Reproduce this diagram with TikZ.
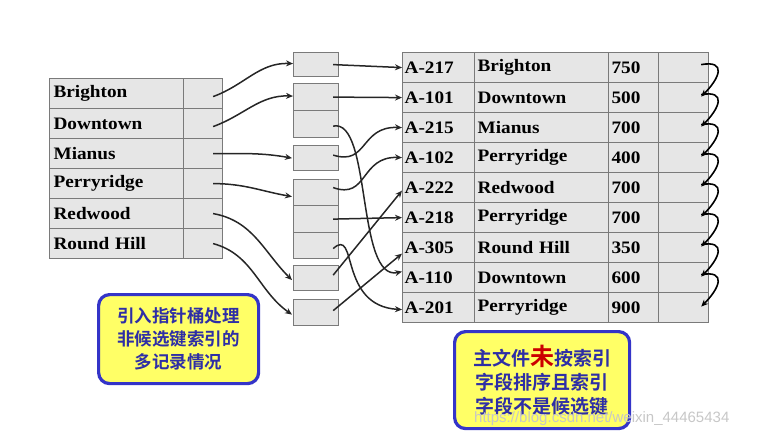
\documentclass[tikz,border=0pt]{standalone}
\usepackage{fontspec}
\setmainfont{Liberation Serif}[FakeStretch=1.1]
\newfontfamily\cjkfont{Noto Sans CJK SC}[BoldFont={Noto Sans CJK SC Bold}]
\newfontfamily\wmfont{Liberation Sans}
\usetikzlibrary{arrows.meta}
\definecolor{cellgray}{HTML}{E6E6E6}
\definecolor{linegray}{HTML}{7A7A7A}
\definecolor{boxyellow}{HTML}{FFFF66}
\definecolor{boxblue}{HTML}{3434C8}
\definecolor{txtblue}{HTML}{2E2EA6}
\definecolor{txtred}{HTML}{CC0000}
\begin{document}
\begin{tikzpicture}[x=1pt,y=-1pt,
  cell/.style={draw=linegray, fill=cellgray, line width=1.2pt, inner sep=0pt,
    anchor=north west, font=\fontsize{17.5}{19}\selectfont\bfseries},
  lname/.style={cell, minimum height=30pt, text width=126pt, inner xsep=4pt, align=left},
  lptr/.style={cell, minimum height=30pt, minimum width=39pt},
  bcell/.style={cell, minimum height=26pt, minimum width=45pt},
  rA/.style={cell, minimum height=30pt, text width=68pt, inner xsep=2pt, align=left},
  rB/.style={cell, minimum height=30pt, text width=128pt, inner xsep=3pt, align=left},
  rC/.style={cell, minimum height=30pt, text width=44pt, inner xsep=3pt, align=left},
  rD/.style={cell, minimum height=30pt, minimum width=50pt},
  ptr/.style={draw=black!85, line width=1.5pt, -{Stealth[length=7pt,width=6pt]}},
  chain/.style={draw=black, line width=1.6pt, -{Stealth[length=7pt,width=6pt]}},
  note/.style={draw=boxblue, fill=boxyellow, line width=3.2pt, rounded corners=11pt,
    anchor=north west, inner sep=0pt, align=center, text=txtblue,
    font=\cjkfont\bfseries\fontsize{17.5}{23}\selectfont}
]
\useasboundingbox (0,0) rectangle (757,438);

% left index table
\foreach \t [count=\i] in {Brighton,Downtown,Mianus,Perryridge,Redwood,Round Hill}{
  \node[lname] (L\i) at (49,{78+30*(\i-1)}) {\t};
  \node[lptr] (P\i) at (183,{78+30*(\i-1)}) {};
}

% buckets
\node[bcell, minimum height=24pt] (B1) at (293,52) {};
\node[bcell, minimum height=27pt] (B2a) at (293,83) {};
\node[bcell, minimum height=27pt] (B2b) at (293,110) {};
\node[bcell, minimum height=25pt] (B3) at (293,145) {};
\node[bcell] (B4a) at (293,179) {};
\node[bcell, minimum height=27pt] (B4b) at (293,205) {};
\node[bcell] (B4c) at (293,232) {};
\node[bcell, minimum height=25pt] (B5) at (293,265) {};
\node[bcell] (B6) at (293,299) {};

% main file
\foreach \a/\b/\c [count=\i] in {A-217/Brighton/750, A-101/Downtown/500, A-215/Mianus/700,
  A-102/Perryridge/400, A-222/Redwood/700, A-218/Perryridge/700, A-305/Round Hill/350,
  A-110/Downtown/600, A-201/Perryridge/900}{
  \node[rA] (RA\i) at (402,{52+30*(\i-1)}) {\a};
  \node[rB] (RB\i) at (474,{52+30*(\i-1)}) {\b};
  \node[rC] (RC\i) at (608,{52+30*(\i-1)}) {\c};
  \node[rD] (RD\i) at (658,{52+30*(\i-1)}) {};
}

% index -> buckets
\draw[ptr] ([xshift=10pt,yshift=-3pt]P1.center) to[out=20,in=178] ([yshift=1pt]B1.west);
\draw[ptr] ([xshift=10pt,yshift=-3pt]P2.center) to[out=20,in=178] ([yshift=1pt]B2a.west);
\draw[ptr] ([xshift=10pt]P3.center) to[out=0,in=170] ([xshift=-1pt]B3.west);
\draw[ptr] ([xshift=10pt]P4.center) to[out=0,in=170] ([xshift=-1pt,yshift=-4pt]B4a.west);
\draw[ptr] ([xshift=10pt]P5.center) to[out=-10,in=135] ([xshift=-1pt,yshift=-2pt]B5.west);
\draw[ptr] ([xshift=10pt]P6.center) to[out=-15,in=145] ([xshift=-1pt,yshift=-2pt]B6.west);

% buckets -> records
\draw[ptr] ([xshift=-6pt]B1.east) -- (RA1.west);
\draw[ptr] ([xshift=-6pt]B2a.east) -- (RA2.west);
\draw[ptr] ([xshift=-6pt,yshift=-2pt]B2b.east) .. controls (372,118) and (356,282) .. ([yshift=6pt]RA8.west);
\draw[ptr] ([xshift=-6pt,yshift=3pt]B3.east) .. controls (368,166) and (360,126) .. (RA3.west);
\draw[ptr] ([xshift=-6pt,yshift=5pt]B4a.east) .. controls (368,200) and (360,156) .. (RA4.west);
\draw[ptr] ([xshift=-6pt]B4b.east) -- (RA6.west);
\draw[ptr] ([xshift=-6pt,yshift=-3pt]B4c.east) .. controls (358,226) and (338,306) .. ([yshift=-2pt]RA9.west);
\draw[ptr] ([xshift=-6pt,yshift=3pt]B5.east) -- ([yshift=-3pt]RA5.west);
\draw[ptr] ([xshift=-6pt,yshift=2pt]B6.east) -- ([yshift=-6pt]RA7.west);

% chain of records
\foreach \i [evaluate=\i as \j using int(\i+1)] in {1,...,8}{
  \draw[chain] ([xshift=-8pt,yshift=3pt]RD\i.east) to[out=10,in=45,looseness=2.1] ([xshift=-8pt,yshift=1pt]RD\j.east);
}

% notes
\node[note, minimum width=160pt, minimum height=89pt] (N1) at (97,293)
  {引入指针桶处理\\非候选键索引的\\多记录情况};
\node[note, minimum width=175pt, minimum height=97pt, font=\cjkfont\bfseries\fontsize{19}{24}\selectfont] (N2) at (453,330)
  {主文件{\fontsize{24}{24}\selectfont\color{txtred}未}按索引\\字段排序且索引\\字段不是候选键};

% watermark
\node[anchor=west, text=black!22, font=\wmfont\fontsize{15}{17}\selectfont, inner sep=0pt] (W) at (474,419)
  {https://blog.csdn.net/weixin\_44465434};
\end{tikzpicture}
\end{document}
